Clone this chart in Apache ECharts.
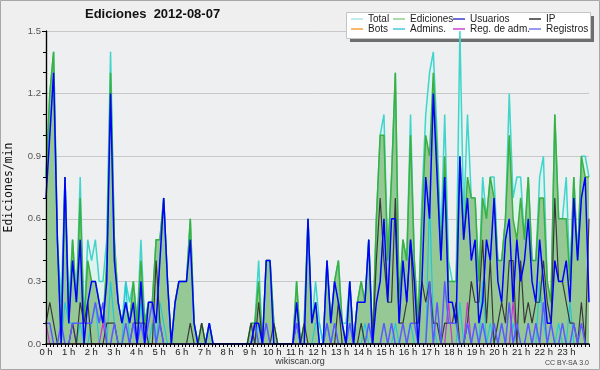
<!DOCTYPE html>
<html><head><meta charset="utf-8">
<script src="https://cdn.jsdelivr.net/npm/echarts/dist/echarts.min.js"></script>
<style>html,body{margin:0;padding:0;background:#efefef}#c{width:600px;height:370px}</style>
</head><body><div id="c"></div>
<script>
// 10-minute slots, 0:00 .. 23:50 (144 values), edits per minute
const total = [
0.8,1.2,1.4,0.5,0.2,0.8,0.2,0.5,0.2,0.8,0.1,0.5,
0.4,0.5,0.3,0.3,0.5,1.4,0.5,0.2,0.1,0.3,0.2,0.3,
0.1,0.5,0.1,0.2,0.2,0.5,0.5,0.7,0.3,0,0.2,0.3,
0.3,0.3,0.6,0.1,0,0.1,0,0.1,0,0,0,0,
0,0,0,0,0,0,0.1,0.1,0.4,0,0.4,0.4,
0.1,0,0,0,0,0,0.3,0,0.1,0.6,0.1,0.3,
0.1,0,0.4,0.1,0.3,0.4,0.1,0.1,0.3,0,0.2,0.3,
0.2,0.5,0,0.6,1.0,1.1,0.4,0.8,1.3,0.2,0.5,0.4,
1.1,0.4,0.1,0.7,1.1,1.3,1.4,1.0,0.5,1.1,0.4,0.3,
0.3,1.5,0.6,1.1,0.7,0.7,0.3,0.8,0.6,0.8,0.8,0.4,
0.4,0.6,1.2,0.7,0.8,0.8,0.5,0.8,0.4,0.4,0.8,0.9,
0.3,0.2,1.1,0.6,0.6,0.8,0.3,0.8,0.4,0.9,0.9,0.8];
const ediciones = [
0.8,1.2,1.4,0.5,0,0.8,0.1,0.5,0.2,0.7,0.1,0.4,
0.3,0.3,0.2,0.1,0.4,1.3,0.5,0.2,0.1,0.2,0.1,0.3,
0.1,0.4,0.1,0.2,0.2,0.5,0.5,0.7,0.3,0,0.2,0.3,
0.3,0.3,0.6,0.1,0,0.1,0,0.1,0,0,0,0,
0,0,0,0,0,0,0.1,0.1,0.3,0,0.4,0.4,
0.1,0,0,0,0,0,0.3,0,0.1,0.6,0.1,0.2,
0,0,0.4,0.1,0.3,0.4,0.1,0,0.3,0,0.2,0.3,
0.2,0.5,0,0.6,1.0,1.0,0.4,0.8,1.3,0.2,0.5,0.4,
1.0,0.4,0.1,0.6,1.0,0.9,1.3,0.9,0.4,0.9,0.3,0.3,
0.3,0.9,0.5,0.8,0.7,0.7,0.3,0.7,0.6,0.8,0.7,0.4,
0.4,0.6,1.0,0.6,0.5,0.7,0.5,0.8,0.4,0.4,0.7,0.7,
0.3,0.2,1.1,0.6,0.6,0.6,0.3,0.8,0.4,0.9,0.8,0.8];
const usuarios = [
0.7,1.0,1.3,0.5,0,0.8,0.1,0.4,0.2,0.5,0,0.2,
0.3,0.3,0.2,0.1,0.3,1.2,0.4,0.2,0.1,0.2,0.1,0.2,
0,0.3,0,0.2,0.2,0.1,0.4,0.7,0.3,0,0.2,0.3,
0.3,0.3,0.5,0.1,0,0,0,0.1,0,0,0,0,
0,0,0,0,0,0,0,0.1,0.1,0,0.4,0.4,
0,0,0,0,0,0,0.2,0,0,0.6,0.1,0.2,
0,0,0.4,0.1,0.3,0.2,0.1,0,0.3,0,0.2,0.2,
0.2,0.5,0,0.2,0.3,0.6,0.2,0.6,0.6,0.1,0.4,0.2,
0.5,0.3,0,0.3,0.8,0.6,1.2,0.8,0.4,0.8,0.2,0.2,
0.1,0.9,0.5,0.7,0.4,0.5,0.1,0.2,0.5,0.4,0.7,0.3,
0.2,0.5,0.6,0.2,0.5,0.3,0.4,0.6,0.3,0.2,0.5,0.3,
0.1,0.1,0.4,0.3,0.3,0.4,0.2,0.7,0.4,0.7,0.8,0.2];
const ip = [
0.1,0.2,0.1,0,0,0,0,0.1,0,0.2,0.1,0.2,
0,0,0,0,0.1,0.1,0.1,0,0,0,0,0.1,
0.1,0.1,0.1,0,0,0.4,0.1,0,0,0,0,0,
0,0,0.1,0,0,0.1,0,0,0,0,0,0,
0,0,0,0,0,0,0.1,0,0.2,0,0,0,
0.1,0,0,0,0,0,0.1,0,0.1,0,0,0,
0,0,0,0,0,0.2,0,0,0,0,0,0.1,
0,0,0,0.4,0.7,0.4,0.2,0.2,0.7,0.1,0.1,0.2,
0.5,0.1,0.1,0.3,0.2,0.3,0.1,0.1,0,0.1,0.1,0.1,
0.2,0,0,0.1,0.3,0.2,0.2,0.5,0.1,0.4,0,0.1,
0.2,0.1,0.4,0.4,0,0.4,0.1,0.2,0.1,0.2,0.2,0.4,
0.2,0.1,0.7,0.3,0.3,0.2,0.1,0.1,0,0.2,0,0.6];
const bots = [
0,0,0,0,0,0,0,0,0,0,0,0, 0,0,0,0,0,0,0,0,0,0,0,0,
0,0,0,0,0,0,0,0,0,0,0,0, 0,0,0,0,0,0,0,0,0,0,0,0,
0,0,0,0,0,0,0,0,0,0,0,0, 0,0,0,0,0,0,0,0,0,0,0,0,
0,0,0,0,0,0,0,0,0,0,0,0, 0,0,0,0,0,0,0,0,0,0,0,0,
0,0,0,0,0,0,0,0,0,0,0,0, 0,0,0,0,0,0,0,0,0,0,0,0,
0,0,0,0,0,0,0,0,0,0,0,0, 0,0,0,0,0,0,0,0,0,0,0,0];
const admins = [
0,0,0,0,0,0.2,0.1,0.1,0,0.1,0,0,
0.1,0.2,0,0,0,0.3,0.1,0,0,0.3,0,0,
0,0.2,0,0,0.1,0,0.2,0.1,0,0,0,0,
0,0,0,0,0,0,0,0,0,0,0,0,
0,0,0,0,0,0,0,0,0.1,0,0,0,
0,0,0,0,0,0,0,0,0,0,0,0.1,
0.1,0,0.1,0,0.1,0,0,0,0.1,0,0,0,
0.1,0,0,0,0,0,0,0,0.1,0,0,0,
0.1,0,0,0,0,0.7,0.1,0,0,0,0,0,
0,0.2,0,0.1,0,0,0,0.3,0,0.1,0,0,
0,0,0,0.1,0,0,0,0,0,0,0.3,0.1,
0,0,0,0.1,0,0,0.2,0,0,0,0,0];
const regAdm = [
0.1,0,0,0,0,0,0,0.1,0,0,0,0,
0,0,0,0.1,0,0,0,0,0,0,0,0,
0,0,0,0,0,0,0,0,0,0,0,0, 0,0,0,0,0,0,0,0,0,0,0,0,
0,0,0,0,0,0,0,0,0,0,0,0, 0,0,0,0,0,0,0,0,0,0,0,0,
0,0,0,0,0,0,0,0,0,0,0,0, 0,0,0,0,0,0,0,0,0,0,0,0,
0,0,0,0,0,0,0,0,0,0,0.2,0,
0,0,0,0.2,0,0,0,0,0,0,0,0,
0,0,0,0.2,0,0,0,0,0,0,0,0,
0,0,0,0,0,0,0,0,0,0,0,0];
const registros = [
0.1,0.1,0,0,0.1,0,0,0.1,0.1,0.1,0.1,0.1,
0.1,0.2,0.1,0.2,0,0,0.1,0,0,0.1,0,0.1,
0,0.1,0,0.1,0.2,0,0.1,0,0,0,0,0,
0,0,0,0,0,0,0,0,0,0,0,0,
0,0,0,0,0,0,0,0.1,0,0,0.1,0,
0,0,0,0,0,0,0.1,0,0,0,0,0,
0,0,0.1,0,0.1,0,0,0,0.1,0,0,0,
0,0.1,0,0,0,0.1,0,0.1,0,0,0.1,0,
0.1,0.1,0,0,0,0.3,0,0.2,0,0.3,0.1,0.1,
0.1,0,0,0.1,0,0.1,0,0.1,0,0,0.1,0,
0.1,0,0.2,0,0.1,0,0,0.1,0,0.1,0,0.2,
0,0.1,0,0,0.1,0,0,0.1,0,0.1,0,0];
const hourTicks = [0,1,2,3,4,5,6,7,8,9,10,11,12,13,14,15,16,17,18,19,20,21,22,23];
const yTicks = ['0.0','0.3','0.6','0.9','1.2','1.5'];

const defs = [
  {name:'Total', data:total, color:'#3fd5cb', w:1.5, area:'#ddf3ef', legend:'#a8e4e4'},
  {name:'Ediciones', data:ediciones, color:'#3caf3c', w:1.5, area:'#96c896', legend:'#8fd08f'},
  {name:'Bots', data:bots, color:'#ff9a33', w:1, legend:'#f5a040'},
  {name:'Admins.', data:admins, color:'#22c8da', w:1.2, legend:'#44c8dc'},
  {name:'Reg. de adm.', data:regAdm, color:'#cc33cc', w:1.2, legend:'#cc44cc'},
  {name:'IP', data:ip, color:'#383838', w:1.2, legend:'#333333'},
  {name:'Registros', data:registros, color:'#5a5aff', w:1.5, legend:'#7777ee'},
  {name:'Usuarios', data:usuarios, color:'#0000ff', w:1.5, legend:'#3d3dcc'}
];
const legendColor = {}; defs.forEach(d => legendColor[d.name] = d.legend);
function legendCol(names, left){
  return {
    data: names.map(n => ({name:n, itemStyle:{color:legendColor[n], borderWidth:0}})),
    orient:'vertical', left:left, top:14, itemWidth:12, itemHeight:1.5, itemGap:0,
    icon:'rect', selectedMode:false, padding:0,
    textStyle:{fontFamily:'Liberation Sans', fontSize:10, lineHeight:10, color:'#222'}
  };
}

const chart = echarts.init(document.getElementById('c'), null, {renderer:'canvas'});
chart.setOption({
  animation:false,
  backgroundColor:'#efefef',
  title:{text:'Ediciones  2012-08-07', left:85, top:8, padding:0,
    textStyle:{fontFamily:'Liberation Sans', fontSize:13, fontWeight:'bold', color:'#111'}},
  legend:[
    legendCol(['Total','Bots'], 351),
    legendCol(['Ediciones','Admins.'], 393),
    legendCol(['Usuarios','Reg. de adm.'], 453),
    legendCol(['IP','Registros'], 529)
  ],
  grid:{left:46, right:11, top:31, bottom:26, show:true, backgroundColor:'#edeff1', borderWidth:0,
        containLabel:false, outerBoundsMode:'none'},
  xAxis:[
    {type:'value', min:0, max:total.length-1, show:false},
    {type:'value', min:0, max:144, interval:6, position:'bottom', z:6,
     axisLine:{show:true, lineStyle:{color:'#000', width:1.5}},
     axisTick:{show:true, length:3, lineStyle:{color:'#000'}},
     minorTick:{show:true, splitNumber:6, length:3, lineStyle:{color:'#000'}},
     splitLine:{show:false},
     axisLabel:{margin:3, fontFamily:'Liberation Sans', fontSize:9.5, color:'#222',
       formatter:v => { const h = v/6; return hourTicks.indexOf(h) >= 0 ? h + ' h' : ''; }}}
  ],
  yAxis:[
    {type:'value', min:0, max:1.5, interval:0.3,
     name:'Ediciones/min', nameLocation:'middle', nameGap:31, nameRotate:90,
     nameTextStyle:{fontFamily:'DejaVu Sans Mono', fontSize:11.5, color:'#111'},
     axisLine:{show:true, lineStyle:{color:'#000', width:1.2}},
     axisTick:{show:true, length:4, lineStyle:{color:'#000'}},
     minorTick:{show:true, splitNumber:3, length:3, lineStyle:{color:'#000'}},
     splitLine:{show:true, lineStyle:{color:'#c8c8c8', width:1}},
     axisLabel:{margin:5, fontFamily:'Liberation Sans', fontSize:9.5, color:'#555',
       formatter:v => yTicks[Math.round(v/0.3)] || ''}},
    {type:'value', min:0, max:1.5, position:'left', z:6,
     axisLine:{show:true, lineStyle:{color:'#000', width:1.2}},
     axisTick:{show:false}, axisLabel:{show:false}, splitLine:{show:false}}
  ],
  series: defs.map(d => ({
    name:d.name, type:'line', xAxisIndex:0, yAxisIndex:0, symbol:'none', smooth:false,
    data:d.data.map((v,i) => [i, v]),
    lineStyle:{color:d.color, width:d.w},
    itemStyle:{color:d.color},
    areaStyle: d.area ? {color:d.area, opacity:1} : undefined,
    emphasis:{disabled:true}
  })),
  graphic:[
    {type:'rect', shape:{x:0.5, y:0.5, width:599, height:369}, style:{fill:'none', stroke:'#a8a8a8', lineWidth:1}, z:10},
    {type:'rect', shape:{x:350, y:16, width:244, height:26}, style:{fill:'#6e6e6e'}, z:3},
    {type:'rect', shape:{x:346.5, y:12.5, width:244, height:26}, style:{fill:'#ffffff', stroke:'#c4c4c4', lineWidth:1}, z:3},
    {type:'text', x:300, y:362, style:{text:'wikiscan.org', fill:'#333', font:'9px "Liberation Sans"', textAlign:'center', textVerticalAlign:'middle'}, z:3},
    {type:'text', x:589, y:363, style:{text:'CC BY-SA 3.0', fill:'#444', font:'7px "Liberation Sans"', textAlign:'right', textVerticalAlign:'middle'}, z:3}
  ]
});
</script></body></html>
